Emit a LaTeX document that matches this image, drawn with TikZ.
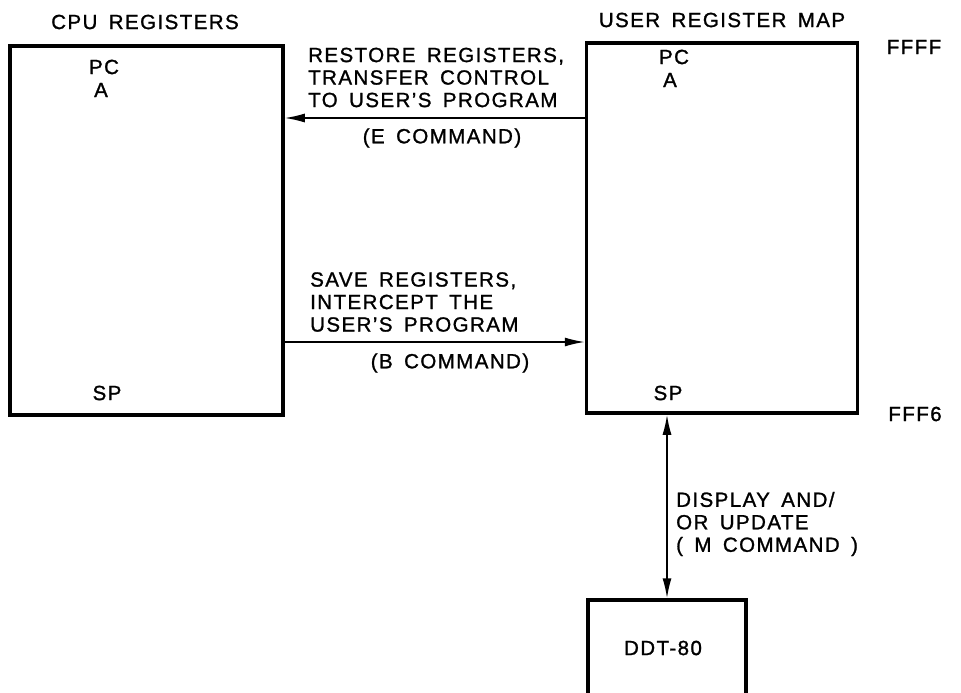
\documentclass[tikz,border=0pt]{standalone}
\usepackage{fontspec}
\setmainfont{Liberation Sans}[LetterSpace=7,WordSpace=1.6,FakeBold=1.2]
\usetikzlibrary{arrows.meta}
\begin{document}
\begin{tikzpicture}[x=1pt,y=-1pt,
  lab/.style={inner sep=0pt,font=\fontsize{20.5}{22.5}\selectfont},
  regbox/.style={draw,line width=3.5pt,inner sep=0pt},
  arr/.style={line width=1.6pt,-{Latex[length=20pt,width=9pt]}},
  darr/.style={line width=1.6pt,{Latex[length=20pt,width=9pt]}-{Latex[length=20pt,width=9pt]}}]
\useasboundingbox (0,0) rectangle (961,693);
\clip (0,0) rectangle (961,693);
% boxes
\node[regbox,minimum width=273pt,minimum height=369pt] (cpu) at (146.5,230.5) {};
\node[regbox,minimum width=271pt,minimum height=370pt] (urm) at (722,228) {};
\node[regbox,minimum width=158pt,minimum height=140pt] (ddt) at (667,670) {};
% titles
\node[lab] (tcpu) at (145,22) {CPU REGISTERS};
\node[lab] (turm) at (722,20) {USER REGISTER MAP};
\node[lab] (ffff) at (914,47) {FFFF};
\node[lab] (fff6) at (915,414) {FFF6};
% register names
\node[lab] (cpc) at (104,67) {PC};
\node[lab] (ca) at (101,90) {A};
\node[lab] (csp) at (107,393) {SP};
\node[lab] (upc) at (674,57) {PC};
\node[lab] (ua) at (670,80) {A};
\node[lab] (usp) at (668,393) {SP};
\node[lab] (dtxt) at (663,648) {DDT-80};
% connectors
\coordinate (ey) at (0,118);
\coordinate (by) at (0,342);
\coordinate (mx) at (667,0);
\draw[arr] (urm.west |- ey) -- (cpu.east |- ey);
\draw[arr] (cpu.east |- by) -- (urm.west |- by);
\draw[darr] (urm.south -| mx) -- (ddt.north -| mx);
% connector labels
\node[lab,align=left,anchor=west] (etxt) at (308,77.5) {RESTORE REGISTERS,\\TRANSFER CONTROL\\TO USER'S PROGRAM};
\node[lab] (ecmd) at (442,138) {(E COMMAND)};
\node[lab,align=left,anchor=west] (btxt) at (310,302) {SAVE REGISTERS,\\INTERCEPT THE\\USER'S PROGRAM};
\node[lab] (bcmd) at (450,363) {(B COMMAND)};
\node[lab,align=left,anchor=west] (mtxt) at (676,524) {DISPLAY AND/\\OR UPDATE\\( M COMMAND )};
\end{tikzpicture}
\end{document}
